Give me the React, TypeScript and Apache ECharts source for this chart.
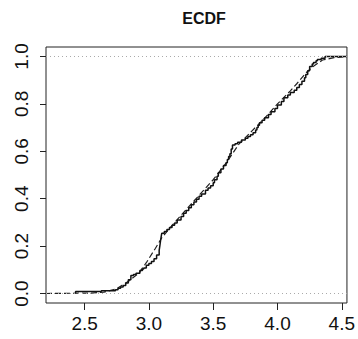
import React, { useEffect, useRef } from "react";
import * as echarts from "echarts";

const title = "ECDF";
const xTicks = [2.5, 3.0, 3.5, 4.0, 4.5];
const yTicks = [0.0, 0.2, 0.4, 0.6, 0.8, 1.0];
const xRange = [2.2, 4.54];
const yRange = [-0.04, 1.04];
const refLines = [0, 1];

const ecdfPoints: [number, number][] = [
  [2.43, 0], [2.43, 0.008], [2.63, 0.012], [2.74, 0.016], [2.76, 0.022], [2.78, 0.028],
  [2.8, 0.034], [2.82, 0.044], [2.84, 0.058], [2.86, 0.076], [2.88, 0.08], [2.9, 0.085],
  [2.93, 0.097], [2.95, 0.103], [2.96, 0.108], [2.98, 0.119], [3.0, 0.127], [3.02, 0.135],
  [3.04, 0.147], [3.06, 0.162], [3.08, 0.182], [3.085, 0.2], [3.09, 0.22], [3.095, 0.238],
  [3.1, 0.254], [3.12, 0.262], [3.14, 0.27], [3.16, 0.279], [3.18, 0.288], [3.2, 0.298],
  [3.22, 0.31], [3.25, 0.325], [3.27, 0.339], [3.29, 0.35], [3.31, 0.362], [3.33, 0.374],
  [3.35, 0.386], [3.37, 0.398], [3.39, 0.41], [3.41, 0.42], [3.44, 0.436], [3.46, 0.445],
  [3.48, 0.455], [3.5, 0.467], [3.51, 0.48], [3.53, 0.495], [3.54, 0.51], [3.56, 0.525],
  [3.58, 0.54], [3.6, 0.552], [3.61, 0.565], [3.62, 0.578], [3.63, 0.59], [3.64, 0.61],
  [3.65, 0.627], [3.67, 0.632], [3.69, 0.638], [3.72, 0.648], [3.75, 0.655], [3.77, 0.662],
  [3.79, 0.67], [3.81, 0.678], [3.83, 0.69], [3.84, 0.7], [3.85, 0.71], [3.86, 0.72],
  [3.88, 0.731], [3.9, 0.742], [3.93, 0.755], [3.95, 0.767], [3.98, 0.781], [4.0, 0.795],
  [4.03, 0.81], [4.05, 0.826], [4.08, 0.837], [4.1, 0.848], [4.13, 0.858], [4.15, 0.869],
  [4.17, 0.882], [4.19, 0.895], [4.21, 0.91], [4.22, 0.924], [4.235, 0.94], [4.25, 0.958],
  [4.27, 0.968], [4.28, 0.975], [4.3, 0.982], [4.31, 0.987], [4.34, 0.993], [4.37, 1.0],
  [4.54, 1.0],
];

// Smooth reference CDF (dashed): [x, F]
const cdfPoints: [number, number][] = [
  [2.2, 0], [2.55, 0.002], [2.65, 0.006], [2.75, 0.02], [2.85, 0.055], [2.92, 0.085],
  [2.98, 0.13], [3.05, 0.19], [3.1, 0.235], [3.2, 0.3], [3.3, 0.36], [3.4, 0.42],
  [3.5, 0.48], [3.6, 0.55], [3.7, 0.63], [3.8, 0.685], [3.9, 0.74], [4.0, 0.8],
  [4.1, 0.855], [4.15, 0.885], [4.22, 0.93], [4.27, 0.955], [4.35, 0.985], [4.44, 0.995],
  [4.54, 1.0],
];

const FONT = "Liberation Sans, Arial, Helvetica, sans-serif";

export default function App() {
  const ref = useRef<HTMLDivElement>(null);
  useEffect(() => {
    if (!ref.current) return;
    const chart = echarts.init(ref.current, undefined, { renderer: "svg" });
    chart.setOption({
      animation: false,
      backgroundColor: "#fff",
      title: {
        text: title,
        left: 199,
        top: 5,
        textAlign: "center",
        textStyle: { fontFamily: FONT, fontWeight: "bold", fontSize: 16, color: "#111" },
      },
      grid: {
        left: 46,
        right: 6,
        top: 47,
        bottom: 36,
        show: true,
        borderColor: "#222",
        borderWidth: 1,
        backgroundColor: "transparent",
      },
      xAxis: {
        type: "value",
        min: xRange[0],
        max: xRange[1],
        axisLine: { show: false, onZero: false },
        splitLine: { show: false },
        axisTick: {
          show: true,
          inside: false,
          length: 7,
          lineStyle: { color: "#222" },
          customValues: xTicks,
        },
        axisLabel: {
          show: true,
          margin: 11,
          fontFamily: FONT,
          fontSize: 19,
          color: "#111",
          customValues: xTicks,
          formatter: (v: number) => v.toFixed(1),
        },
      },
      yAxis: {
        type: "value",
        min: yRange[0],
        max: yRange[1],
        axisLine: { show: false, onZero: false },
        splitLine: { show: false },
        axisTick: {
          show: true,
          inside: false,
          length: 6,
          lineStyle: { color: "#222" },
          customValues: yTicks,
        },
        axisLabel: {
          show: true,
          rotate: 90,
          margin: 15,
          fontFamily: FONT,
          fontSize: 19,
          color: "#111",
          customValues: yTicks,
          formatter: (v: number) => v.toFixed(1),
        },
      },
      series: [
        {
          type: "line",
          name: "ref",
          data: [],
          silent: true,
          markLine: {
            silent: true,
            symbol: ["none", "none"],
            label: { show: false },
            lineStyle: { color: "#aaa", type: [1, 3], width: 1 },
            data: refLines.map((y) => ({ yAxis: y })),
          },
        },
        {
          type: "line",
          name: "cdf",
          data: cdfPoints,
          showSymbol: false,
          smooth: false,
          lineStyle: { color: "#222", width: 1.2, type: [6, 3] },
        },
        {
          type: "line",
          name: "ecdf",
          data: ecdfPoints,
          step: "end",
          showSymbol: false,
          lineStyle: { color: "#111", width: 1.5 },
        },
      ],
    });
    return () => chart.dispose();
  }, []);
  return <div ref={ref} style={{ width: 358, height: 339, position: "absolute", left: 0, top: 0 }} />;
}
